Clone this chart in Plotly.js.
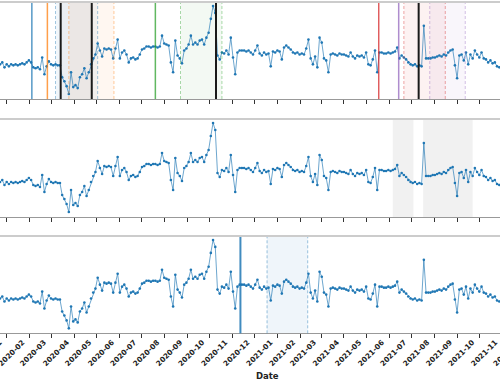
<!DOCTYPE html>
<html>
<head>
<meta charset="utf-8">
<script src="https://cdn.plot.ly/plotly-3.0.1.min.js"></script>
<style>
html, body { margin:0; padding:0; overflow:hidden; width:500px; height:383px; background:#fff; }
#chart { position:absolute; left:-40px; top:0; width:600px; height:383px; }
</style>
</head>
<body>
<div id="chart"></div>
<script>
// ---- data ----
const seriesStart = '2019-12-20';
const seriesStepDays = 3;
const values = [
36,35,37,32,35,33,35,34,35,34,35,36,35,37,39,37,32,31,32,30,
42,25,33,38,35,34,35,34,34,22,18,13,5,27,12,14,11,22,25,31,
21,27,35,41,45,56,49,43,51,50,51,50,41,51,60,41,47,49,45,37,
41,42,40,41,45,50,51,53,53,52,53,53,52,53,64,56,55,54,37,27,
59,44,41,36,49,51,55,64,55,57,55,59,60,55,62,67,81,94,87,44,
40,47,46,49,45,62,42,25,47,49,49,49,48,49,47,45,49,54,46,44,
47,45,46,33,48,47,49,48,40,52,54,52,50,47,46,47,45,46,45,51,
60,41,35,43,32,62,57,41,39,27,45,46,45,44,46,45,45,44,43,47,
43,41,44,43,44,42,47,35,34,40,49,27,47,47,46,46,47,46,47,48,
52,41,44,42,40,37,35,34,35,33,34,33,74,41,41,41,42,42,43,44,
43,45,44,47,49,50,34,21,44,45,39,47,35,45,41,49,45,42,47,41,
40,37,39,36,37,33,32,35
];

// panel 1 events
const eventDates   = ['2020-02-04','2020-02-25','2020-07-20','2021-05-18','2021-06-14'];
const windowStarts = ['2020-03-07','2020-03-25','2020-08-23','2021-06-21','2021-07-26'];
const windowEnds   = ['2020-05-03','2020-05-25','2020-10-18','2021-08-16','2021-09-12'];
const breakDates   = ['2020-03-14','2020-04-25','2020-10-10','2021-07-11'];
const breakShade   = ['2020-03-14','2020-04-25'];
// panel 2 shaded periods
const p2ShadeStarts = ['2021-06-06','2021-07-17'];
const p2ShadeEnds   = ['2021-07-04','2021-09-22'];
// panel 3
const p3LineDate = '2020-11-12';
const p3Shade = ['2020-12-18','2021-02-11'];

// ---- build ----
const t0 = Date.UTC(2019, 11, 20);
const dates = values.map((_, i) => new Date(t0 + i * seriesStepDays * 86400000).toISOString().slice(0, 10));

const evColors = ['31,119,180','255,127,14','44,160,44','214,39,40','148,103,189'];

function trace(xa, ya) {
  return {
    x: dates, y: values, xaxis: xa, yaxis: ya, type: 'scatter', mode: 'lines+markers',
    line: {color: 'rgba(31,119,180,0.65)', width: 1},
    marker: {color: '#1f77b4', size: 2.6},
    hoverinfo: 'skip'
  };
}

const shapes = [];
function vline(yref, d, color, width, dash) {
  shapes.push({type:'line', xref:'x', yref: yref, x0:d, x1:d, y0:0, y1:1,
    line:{color:color, width:width, dash:dash||'solid'}, layer:'above'});
}
function vrect(yref, a, b, color) {
  shapes.push({type:'rect', xref:'x', yref: yref, x0:a, x1:b, y0:0, y1:1,
    fillcolor:color, line:{width:0}, layer:'below'});
}
const DASH = '3px,2px';
// panel 1
for (let i = 0; i < eventDates.length; i++) {
  vrect('y domain', windowStarts[i], windowEnds[i], 'rgba(' + evColors[i] + ',0.06)');
}
vrect('y domain', breakShade[0], breakShade[1], 'rgba(60,40,20,0.035)');
for (let i = 0; i < eventDates.length; i++) {
  vline('y domain', eventDates[i], 'rgba(' + evColors[i] + ',0.75)', 1.5);
  vline('y domain', windowStarts[i], 'rgba(' + evColors[i] + ',0.4)', 1, DASH);
  vline('y domain', windowEnds[i], 'rgba(' + evColors[i] + ',0.4)', 1, DASH);
}
breakDates.forEach(d => vline('y domain', d, '#1a1a1a', 2));
// panel 2
for (let i = 0; i < p2ShadeStarts.length; i++) vrect('y2 domain', p2ShadeStarts[i], p2ShadeEnds[i], 'rgba(0,0,0,0.055)');
// panel 3
vrect('y3 domain', p3Shade[0], p3Shade[1], 'rgba(31,119,180,0.07)');
vline('y3 domain', p3Shade[0], 'rgba(31,119,180,0.45)', 1, DASH);
vline('y3 domain', p3Shade[1], 'rgba(31,119,180,0.45)', 1, DASH);
vline('y3 domain', p3LineDate, 'rgba(31,119,180,0.85)', 2);
// top frame lines
['y domain','y2 domain','y3 domain'].forEach(r => shapes.push({type:'line', xref:'paper', yref:r,
  x0:0, x1:1, y0:1, y1:1, line:{color:'#cccccc', width:2}, layer:'above'}));

const xRange = ['2019-10-29 20:38', '2022-01-18 02:24'];
function xax(anchor, labels) {
  const a = {
    type:'date', domain:[0,1], anchor:anchor, range:xRange,
    showgrid:false, zeroline:false, showline:true, linecolor:'#999', linewidth:1,
    ticks:'outside', ticklen:4, tickwidth:1, tickcolor:'#333',
    tick0:'2020-01-01', dtick:'M1', showticklabels:labels
  };
  if (labels) {
    a.tickformat = '%Y-%m';
    a.tickangle = -45;
    a.ticklabelshift = -7;
    a.ticklabelstandoff = -3;
    a.tickfont = {family:'DejaVu Sans', size:7.3, weight:'bold', color:'#222'};
  }
  return a;
}
function yax(dom) {
  return {domain:dom, range:[0,98], showgrid:false, zeroline:false, showline:false,
    showticklabels:false, ticks:''};
}

const layout = {
  width:600, height:383, margin:{l:0, r:0, t:0, b:0},
  paper_bgcolor:'#fff', plot_bgcolor:'#fff', showlegend:false,
  xaxis: xax('y', false), xaxis2: Object.assign(xax('y2', false), {matches:'x'}),
  xaxis3: Object.assign(xax('y3', true), {matches:'x'}),
  yaxis: yax([0.74151, 0.99478]), yaxis2: yax([0.43342, 0.68930]), yaxis3: yax([0.12977, 0.38381]),
  shapes: shapes,
  annotations: [{text:'Date', xref:'paper', yref:'paper', x:307.5/600, y:1-376/383,
    showarrow:false, font:{family:'DejaVu Sans', size:8.5, weight:'bold', color:'#222'},
    xanchor:'center', yanchor:'middle'}]
};

Plotly.newPlot('chart', [trace('x','y'), trace('x2','y2'), trace('x3','y3')], layout, {staticPlot:true, displayModeBar:false});
</script>
</body>
</html>
